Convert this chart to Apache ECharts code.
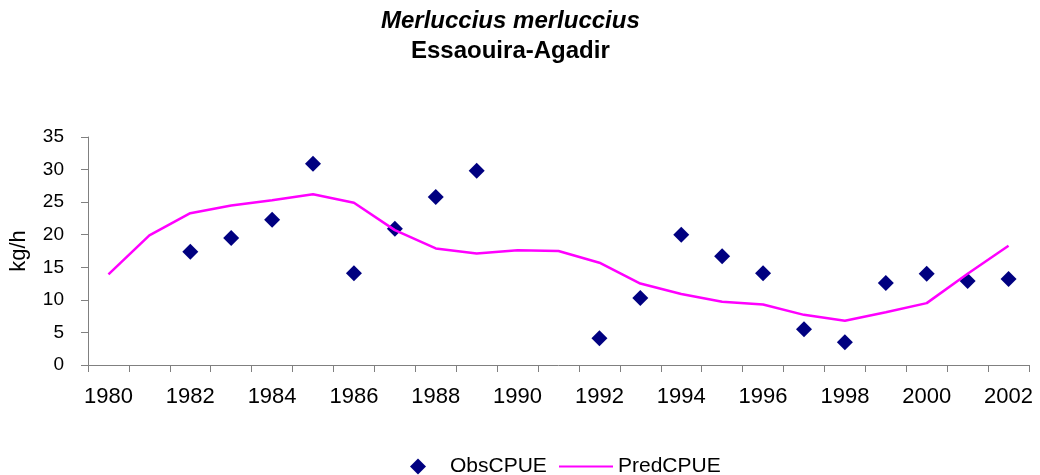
<!doctype html>
<html>
	<head>
		<meta charset="utf-8">
		<title>Merluccius merluccius</title>
		<script src="https://cdn.jsdelivr.net/npm/echarts@6/dist/echarts.min.js"></script>
		<style>
			html, body { margin: 0; padding: 0; background: #fff; }
			#container { width: 1040px; height: 475px; }
		</style>
	</head>
	<body>
		<div id="container"></div>
		<script type="text/javascript">
			var years = ['1980', '1981', '1982', '1983', '1984', '1985', '1986', '1987', '1988', '1989', '1990', '1991',
				'1992', '1993', '1994', '1995', '1996', '1997', '1998', '1999', '2000', '2001', '2002'];
			// observed CPUE (no survey in 1980, 1981, 1990, 1991)
			var obsCPUE = [null, null, 17.4, 19.5, 22.3, 30.9, 14.1, 20.9, 25.8, 29.8, null, null,
				4.1, 10.3, 20.0, 16.7, 14.1, 5.5, 3.5, 12.6, 14.0, 12.9, 13.2];
			var predCPUE = [13.9, 19.9, 23.3, 24.5, 25.3, 26.2, 24.9, 20.7, 17.9, 17.1, 17.6, 17.5,
				15.7, 12.5, 10.9, 9.7, 9.3, 7.7, 6.8, 8.1, 9.5, 14.0, 18.3];

			var font = 'Liberation Sans, Arial, sans-serif';
			var myChart = echarts.init(document.getElementById('container'));

			var option = {
				animation: false,
				textStyle: { fontFamily: font },
				// two titles so each line sits where it does in the original (centred around x=508)
				title: [{
					left: 376,
					top: 4,
					text: 'Merluccius merluccius',
					textStyle: { fontFamily: font, fontSize: 24, fontWeight: 'bold', fontStyle: 'italic', color: '#000' }
				}, {
					left: 406,
					top: 34,
					text: 'Essaouira-Agadir',
					textStyle: { fontFamily: font, fontSize: 24, fontWeight: 'bold', color: '#000' }
				}],
				legend: [{
					left: 405,
					top: 451,
					itemWidth: 16,
					itemHeight: 16,
					textStyle: { fontFamily: font, fontSize: 21, color: '#000', padding: [0, 0, 0, 19] },
					data: [{ name: 'ObsCPUE', icon: 'diamond' }]
				}, {
					left: 554,
					top: 451,
					itemWidth: 54,
					itemHeight: 2,
					textStyle: { fontFamily: font, fontSize: 21, color: '#000' },
					data: [{ name: 'PredCPUE', icon: 'rect' }]
				}],
				grid: { left: 87, right: 11, top: 137, bottom: 110 },
				xAxis: {
					type: 'category',
					data: years,
					boundaryGap: true,
					axisLine: { lineStyle: { color: '#808080', width: 1 } },
					axisTick: { show: true, interval: 0, length: 7, lineStyle: { color: '#808080' } },
					axisLabel: { interval: 1, margin: 21, fontSize: 22, color: '#000', fontFamily: font },
					splitLine: { show: false }
				},
				yAxis: {
					type: 'value',
					min: 0,
					max: 35,
					interval: 5,
					name: 'kg/h',
					nameLocation: 'middle',
					nameRotate: 90,
					nameGap: 58,
					nameTextStyle: { fontSize: 22, color: '#000', fontFamily: font },
					axisLine: { show: true, lineStyle: { color: '#808080', width: 1 } },
					axisTick: { show: true, length: 7, lineStyle: { color: '#808080' } },
					axisLabel: { margin: 24, fontSize: 19, color: '#000', fontFamily: font },
					splitLine: { show: false }
				},
				series: [{
					name: 'ObsCPUE',
					type: 'scatter',
					symbol: 'diamond',
					symbolSize: 16,
					itemStyle: { color: '#000080', opacity: 1 },
					data: obsCPUE
				}, {
					name: 'PredCPUE',
					type: 'line',
					symbol: 'none',
					lineStyle: { color: '#ff00ff', width: 2.5 },
					itemStyle: { color: '#ff00ff' },
					data: predCPUE
				}]
			};

			myChart.setOption(option);
		</script>
	</body>
</html>
